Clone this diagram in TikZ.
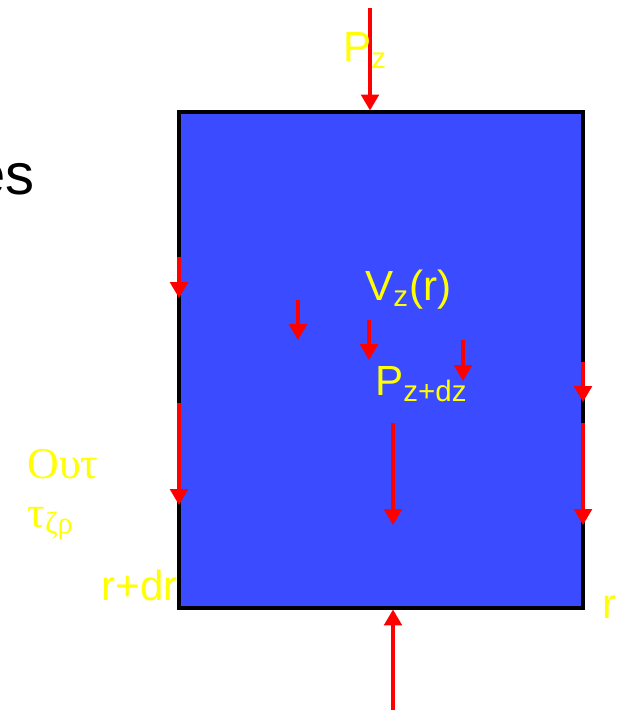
\documentclass[tikz,border=0pt]{standalone}
\usepackage{fontspec}
\setmainfont{Liberation Sans}
\newfontfamily\greekfont{Liberation Serif}
\usetikzlibrary{arrows.meta, positioning}
\definecolor{BodyBlue}{RGB}{59,75,255}
\definecolor{ForceRed}{RGB}{255,0,0}
\definecolor{LabelYellow}{RGB}{255,255,0}
\tikzset{
    % Element and force styles
    bodybox/.style={
        rectangle,
        draw=black,
        fill=BodyBlue,
        line width=1.8pt,
        inner sep=0pt
    },
    force/.style={
        -{Triangle[width=10pt,length=9pt]},
        draw=ForceRed,
        line width=1.9pt
    },
    % Label styles
    ylabel/.style={
        text=LabelYellow,
        inner sep=0pt,
        font=\fontsize{24}{29}\selectfont
    },
    greeklabel/.style={
        text=LabelYellow,
        inner sep=0pt,
        font=\greekfont\fontsize{25}{29}\selectfont
    }
}
\begin{document}
\begin{tikzpicture}[x=0.02cm, y=-0.02cm]
    \useasboundingbox (0,0) rectangle (624,712);

    % Fluid element
    \node[bodybox, minimum width=8.08cm, minimum height=9.92cm] (body) at (381,360) {};

    % Text cut off at the left
    \node[inner sep=0pt, anchor=base east, font=\fontsize{33}{38}\selectfont] (es) at (35,195) {es};

    % Pressure on the top and bottom faces
    \coordinate (ptop) at (370,8);
    \coordinate (pbot) at (393,710);
    \draw[force] (ptop) -- (body.north -| ptop);
    \draw[force] (pbot) -- (body.south -| pbot);

    % Shear on the side faces
    \draw[force] (179,257) -- (179,298);
    \draw[force] (179,403) -- (179,505);
    \draw[force] (583,362) -- (583,402);
    \draw[force] (583,423) -- (583,525);

    % Body force and pressure inside
    \draw[force] (298,300) -- (298,340);
    \draw[force] (369,320) -- (369,360);
    \draw[force] (463,340) -- (463,381);
    \draw[force] (393,423) -- (393,525);

    % Labels
    \node[ylabel, anchor=base west] (pz) at (343,62) {P\textsubscript{z}};
    \node[ylabel, anchor=base west] (vz) at (365,300) {V\textsubscript{z}(r)};
    \node[ylabel, anchor=base west] (pzdz) at (375,395) {P\textsubscript{z+dz}};
    \node[greeklabel, anchor=base west] (out) at (27,478) {Ουτ};
    \node[greeklabel, anchor=base west] (tau) at (27,527) {τ\textsubscript{ζρ}};
    \node[ylabel, anchor=base east] (rdr) at (178,600) {r+dr};
    \node[ylabel, anchor=base west] (r) at (602,618) {r};
\end{tikzpicture}
\end{document}
